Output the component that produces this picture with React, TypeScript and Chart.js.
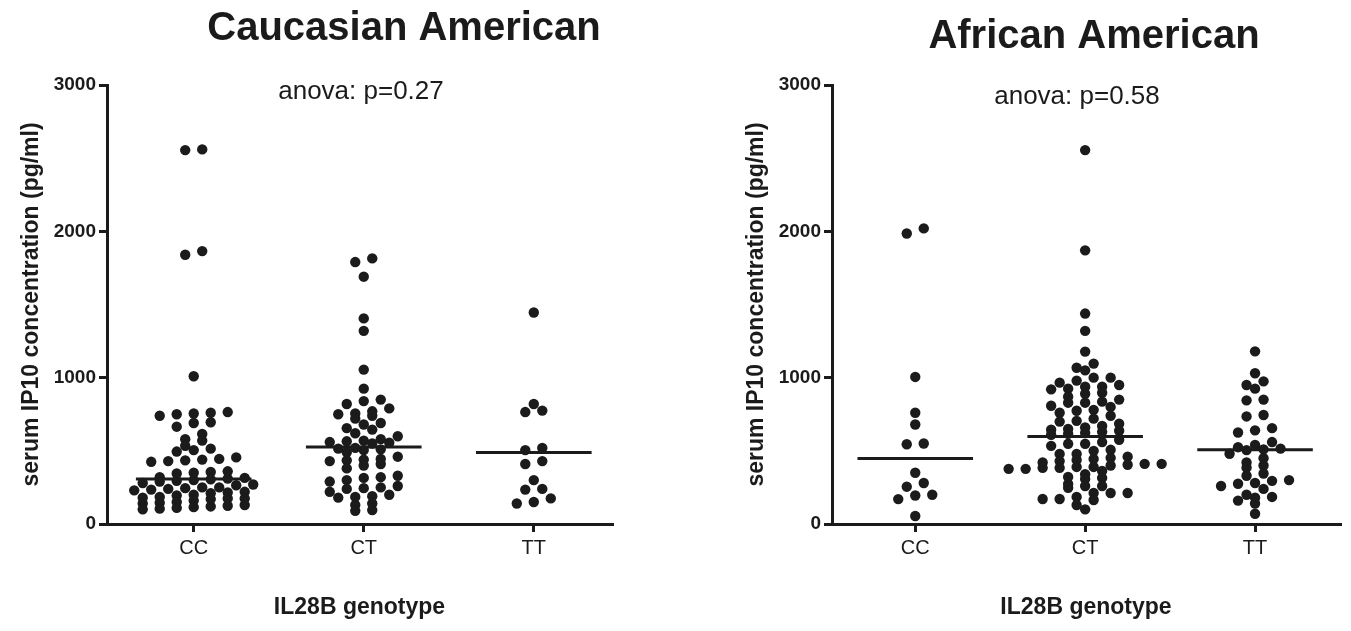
import React, { useEffect, useRef } from 'react';
import { Chart, registerables } from 'chart.js';

Chart.register(...registerables);

const FONT = '"Liberation Sans", Arial, Helvetica, sans-serif';
const INK = '#1b1b1b';

const CATEGORIES = ['CC', 'CT', 'TT'];
const Y_TICKS = [0, 1000, 2000, 3000];
const PANEL_TITLES = ['Caucasian American', 'African American'];
const ANOVA_NOTES = ['anova: p=0.27', 'anova: p=0.58'];
const Y_AXIS_TITLE = 'serum IP10 concentration (pg/ml)';
const X_AXIS_TITLE = 'IL28B genotype';

// Caucasian American, serum IP10 (pg/ml) per genotype
const CAUCASIAN_CC = [
  2560, 2555, 1865, 1840, 1010, 765, 760, 755, 750, 740, 695, 690, 665, 615, 580, 570,
  535, 515, 505, 495, 455, 445, 440, 435, 430, 425, 360, 355, 350, 345, 320, 315, 310,
  305, 300, 295, 290, 280, 270, 265, 250, 250, 245, 240, 235, 230, 220, 215, 210, 200,
  195, 185, 180, 175, 175, 170, 160, 150, 145, 140, 130, 125, 120, 115, 110, 105, 100,
];
const CAUCASIAN_CT = [
  1815, 1790, 1690, 1405, 1320, 1055, 925, 850, 840, 820, 790, 770, 755, 750, 740, 720,
  690, 680, 655, 645, 620, 600, 580, 570, 565, 560, 555, 550, 520, 515, 510, 505, 490,
  460, 445, 440, 435, 430, 410, 400, 380, 330, 320, 315, 300, 290, 260, 250, 245, 240,
  220, 200, 190, 185, 180, 140, 130, 95, 90,
];
const CAUCASIAN_TT = [1445, 820, 775, 765, 520, 505, 430, 410, 300, 240, 235, 175, 150, 140];

// African American
const AFRICAN_CC = [2020, 1985, 1005, 760, 680, 550, 545, 350, 280, 255, 200, 195, 170, 55];
const AFRICAN_CT = [
  2555, 1870, 1438, 1320, 1178, 1096, 1068, 1050, 1000, 1000, 980, 966, 950, 938, 938,
  925, 920, 897, 890, 870, 850, 836, 829, 829, 808, 800, 780, 774, 760, 740, 720, 705,
  700, 685, 670, 660, 650, 644, 637, 630, 623, 616, 610, 575, 560, 548, 548, 534, 507,
  500, 479, 479, 460, 452, 445, 438, 430, 420, 411, 411, 405, 400, 390, 390, 384, 384,
  377, 377, 363, 340, 322, 315, 308, 274, 260, 260, 247, 212, 212, 212, 185, 171, 171,
  164, 130, 100,
];
const AFRICAN_TT = [
  1180, 1030, 975, 950, 925, 850, 845, 745, 735, 655, 640, 625, 560, 540, 525, 515, 510,
  505, 480, 450, 420, 400, 385, 345, 330, 300, 295, 280, 275, 260, 240, 200, 185, 180,
  160, 140, 70,
];

// horizontal median bars
const CAUCASIAN_MEDIANS = [308, 527, 488];
const AFRICAN_MEDIANS = [447, 598, 508];

const PANEL_GROUPS = [
  [CAUCASIAN_CC, CAUCASIAN_CT, CAUCASIAN_TT],
  [AFRICAN_CC, AFRICAN_CT, AFRICAN_TT],
];
const PANEL_MEDIANS = [CAUCASIAN_MEDIANS, AFRICAN_MEDIANS];

const CANVAS_H = 631;
const PLOT_TOP = 85;
const X_AXIS_H = 107;
const ROW_PX = 6.5;
const STEP_PX = 17;
const BAR_HALF = 0.34;
const DOT_R = 5.2;

const LAYOUTS = [
  { left: 0, width: 675, padRight: 63, yAxisWidth: 107, yTitlePad: 18, xMin: -0.51, xMax: 2.46,
    titleX: 404, titleY: 29, noteX: 361, noteY: 92 },
  { left: 675, width: 676, padRight: 11, yAxisWidth: 157, yTitlePad: 68, xMin: -0.49, xMax: 2.5,
    titleX: 419, titleY: 37, noteX: 402, noteY: 97 },
];

// Prism-like scatter-dot layout: greedy rows in pixel space, spread horizontally
function dotOffsets(values: number[], toPx: (v: number) => number): number[] {
  const order = values.map((_, i) => i).sort((a, b) => values[b] - values[a]);
  const rows: number[][] = [];
  let startPx = -Infinity;
  order.forEach((idx) => {
    const py = toPx(values[idx]);
    if (rows.length && py - startPx < ROW_PX) {
      rows[rows.length - 1].push(idx);
    } else {
      rows.push([idx]);
      startPx = py;
    }
  });
  const out = new Array(values.length).fill(0);
  rows.forEach((idxs) => {
    idxs.sort((a, b) => values[a] - values[b]);
    const n = idxs.length;
    idxs.forEach((idx, k) => {
      out[idx] = (k - (n - 1) / 2) * STEP_PX;
    });
  });
  return out;
}

const panelTextPlugin = {
  id: 'panelText',
  afterDraw(chart: any, _args: any, opts: any) {
    const ctx = chart.ctx;
    ctx.save();
    ctx.fillStyle = INK;
    ctx.textAlign = 'center';
    ctx.textBaseline = 'middle';
    ctx.font = `bold 40px ${FONT}`;
    ctx.fillText(opts.title, opts.titleX, opts.titleY);
    ctx.font = `26px ${FONT}`;
    ctx.fillText(opts.note, opts.noteX, opts.noteY);
    ctx.restore();
  },
};

function Panel({ index }: { index: number }) {
  const ref = useRef<HTMLCanvasElement | null>(null);
  const L = LAYOUTS[index];
  useEffect(() => {
    if (!ref.current) return;
    const groups = PANEL_GROUPS[index];
    const medians = PANEL_MEDIANS[index];
    const chart = new Chart(ref.current, {
      type: 'scatter',
      data: {
        datasets: [
          ...groups.map((vals, gi) => ({
            type: 'scatter' as const,
            data: vals.map((v) => ({ x: gi, y: v })),
            pointRadius: DOT_R,
            pointHoverRadius: DOT_R,
            backgroundColor: INK,
            borderWidth: 0,
          })),
          ...medians.map((m, gi) => ({
            type: 'line' as const,
            data: [
              { x: gi - BAR_HALF, y: m },
              { x: gi + BAR_HALF, y: m },
            ],
            borderColor: INK,
            borderWidth: 3,
            pointRadius: 0,
            showLine: true,
          })),
        ],
      } as any,
      options: {
        animation: false,
        responsive: false,
        maintainAspectRatio: false,
        events: [],
        layout: { padding: { top: PLOT_TOP, left: 0, right: L.padRight, bottom: 0 } },
        plugins: {
          legend: { display: false },
          tooltip: { enabled: false },
          panelText: {
            title: PANEL_TITLES[index],
            note: ANOVA_NOTES[index],
            titleX: L.titleX,
            titleY: L.titleY,
            noteX: L.noteX,
            noteY: L.noteY,
          },
        } as any,
        scales: {
          x: {
            type: 'linear',
            min: L.xMin,
            max: L.xMax,
            afterBuildTicks: (s: any) => {
              s.ticks = CATEGORIES.map((_, i) => ({ value: i }));
            },
            afterFit: (s: any) => {
              s.height = X_AXIS_H;
            },
            ticks: {
              autoSkip: false,
              maxRotation: 0,
              padding: 4,
              color: INK,
              font: { family: FONT, size: 20 },
              callback: (v: any) => CATEGORIES[Math.round(Number(v))] ?? '',
            },
            grid: { drawOnChartArea: false, drawTicks: true, tickLength: 8, color: INK, lineWidth: 3 },
            border: { display: true, color: INK, width: 3 },
            title: {
              display: true,
              text: X_AXIS_TITLE,
              color: INK,
              font: { family: FONT, size: 23, weight: 'bold' },
              padding: { top: 0, bottom: 10 },
            },
          },
          y: {
            type: 'linear',
            min: 0,
            max: 3000,
            afterBuildTicks: (s: any) => {
              s.ticks = Y_TICKS.map((v) => ({ value: v }));
            },
            afterFit: (s: any) => {
              s.width = L.yAxisWidth;
            },
            ticks: {
              padding: 3,
              color: INK,
              font: { family: FONT, size: 19, weight: 'bold' },
              callback: (v: any) => String(v),
            },
            grid: { drawOnChartArea: false, drawTicks: true, tickLength: 8, color: INK, lineWidth: 3 },
            border: { display: true, color: INK, width: 3 },
            title: {
              display: true,
              text: Y_AXIS_TITLE,
              color: INK,
              font: { family: FONT, size: 23, weight: 'bold' },
              padding: { top: L.yTitlePad, bottom: 0 },
            },
          },
        },
      } as any,
      plugins: [panelTextPlugin],
    });

    const xs: any = chart.scales.x;
    const ys: any = chart.scales.y;
    const pxPerCat = xs.getPixelForValue(1) - xs.getPixelForValue(0);
    groups.forEach((vals, gi) => {
      const off = dotOffsets(vals, (v) => ys.getPixelForValue(v));
      (chart.data.datasets[gi] as any).data = vals.map((v, i) => ({ x: gi + off[i] / pxPerCat, y: v }));
    });
    chart.update();

    return () => chart.destroy();
  }, [index]);

  return (
    <canvas
      ref={ref}
      width={L.width}
      height={CANVAS_H}
      style={{ position: 'absolute', left: L.left, top: 0, width: L.width, height: CANVAS_H }}
    />
  );
}

export default function App() {
  return (
    <div style={{ position: 'absolute', left: 0, top: 0, width: 1351, height: 631, background: '#fff', overflow: 'hidden' }}>
      <Panel index={0} />
      <Panel index={1} />
    </div>
  );
}
